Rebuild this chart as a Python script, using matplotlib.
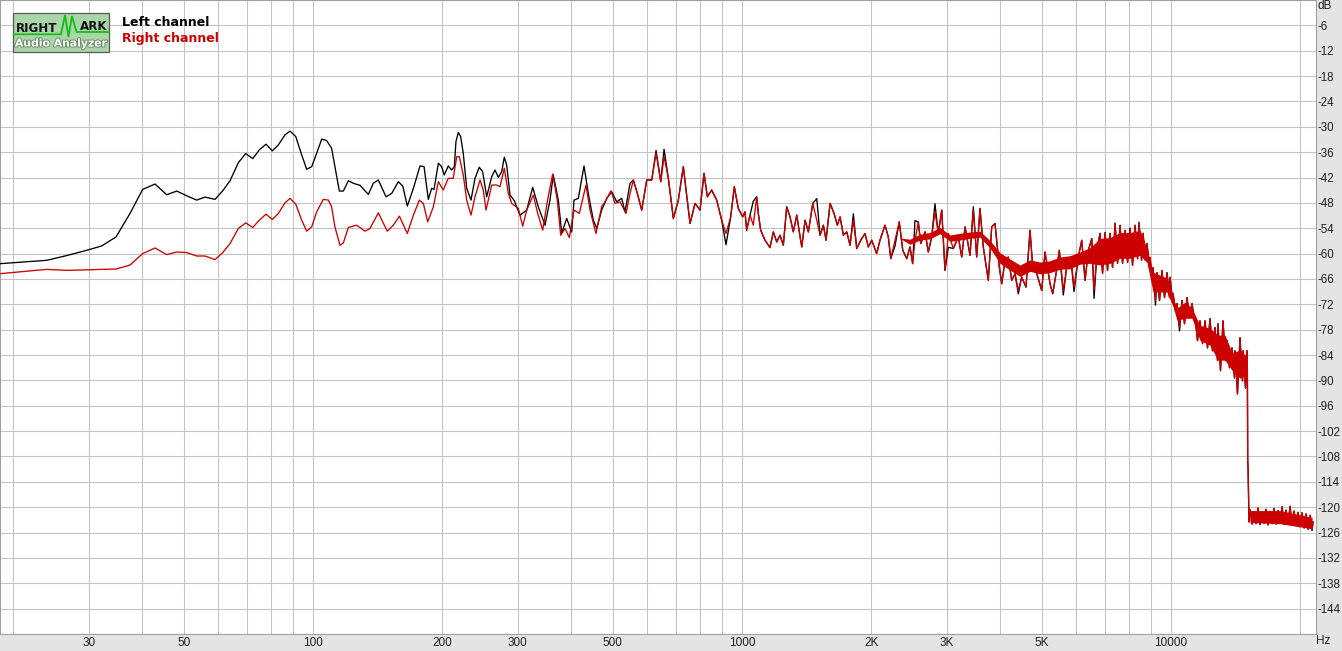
import matplotlib
matplotlib.use('Agg')
import matplotlib.pyplot as plt
from matplotlib.patches import Rectangle
from matplotlib.ticker import FixedLocator, NullFormatter
import matplotlib.patheffects as pe

# ---------------- data (Hz, dB) ----------------
# low band: shared frequencies, left (black) and right (red) channel levels
freq_low = [18.64, 23.95, 26.66, 29.68, 32.17, 34.74, 37.45, 40.09, 42.83, 45.60,
            48.12, 50.77, 53.57, 56.02, 59.11, 61.60, 64.07, 66.99, 69.70, 72.37,
            74.98, 77.72, 80.39, 83.03, 86.06, 88.41, 91.15, 94.12, 96.67, 99.30]
left_low = [-62.38, -61.59, -60.47, -59.22, -58.19, -56.06, -50.50, -44.80, -43.54, -46.08,
            -45.20, -46.32, -47.34, -46.63, -47.17, -45.13, -42.76, -38.48, -36.34, -37.53,
            -35.46, -34.11, -35.70, -34.28, -31.90, -31.02, -32.30, -36.65, -40.05, -39.43]
right_low = [-64.75, -63.73, -63.97, -63.85, -63.73, -63.66, -62.71, -60.00, -58.67, -60.24,
             -59.62, -59.76, -60.57, -60.57, -61.43, -59.76, -57.62, -54.06, -52.73, -53.82,
             -52.09, -50.67, -51.92, -50.50, -47.98, -46.94, -48.29, -52.09, -54.70, -53.68]

# mid band, left channel
left_mid = [(102.0, -36.25), (104.8, -32.92), (107.6, -33.25), (110.5, -35.06), (112.5, -39.43),
            (115.2, -45.20), (117.7, -45.20), (120.9, -42.76), (124.2, -43.37), (128.7, -43.85),
            (134.6, -45.99), (138.2, -43.37), (142.0, -42.59), (148.0, -46.56), (152.6, -45.75),
            (158.1, -42.99), (161.9, -44.01), (165.9, -48.76), (171.4, -44.56), (177.6, -39.26),
            (181.5, -39.43), (185.7, -47.17), (189.1, -44.56), (191.5, -44.80), (196.0, -38.62),
            (199.5, -39.43), (202.3, -41.40), (206.7, -39.26), (210.5, -40.22), (213.5, -39.43),
            (215.4, -33.49), (218.1, -31.35), (220.9, -32.30), (224.0, -36.25), (228.2, -44.56),
            (233.5, -47.34), (238.6, -42.19), (244.1, -39.57), (248.6, -40.62), (254.0, -46.56),
            (261.0, -41.81), (265.6, -40.22), (270.4, -41.95), (275.3, -40.62), (279.2, -37.20),
            (282.8, -39.03), (287.9, -46.15), (294.1, -47.34), (303.8, -50.90), (314.9, -49.71),
            (325.2, -44.32), (335.1, -48.93), (347.4, -53.28), (356.8, -47.34), (363.2, -41.40),
            (373.1, -47.34), (380.0, -55.11), (390.3, -51.69), (400.9, -54.87), (405.9, -47.34),
            (415.4, -46.94), (428.3, -39.26), (438.3, -45.75), (450.2, -52.09), (458.5, -54.06),
            (470.9, -49.71), (483.8, -46.94), (496.9, -45.37), (510.4, -47.74), (524.3, -46.94),
            (533.7, -50.12), (548.3, -43.37)]

# mid band, right channel
right_mid = [(102.0, -50.12), (105.7, -47.17), (108.6, -47.34), (110.5, -48.93), (112.5, -53.68),
             (115.6, -58.03), (117.7, -57.48), (120.9, -53.82), (126.4, -53.28), (132.2, -54.70),
             (135.8, -54.06), (142.0, -50.36), (149.0, -54.70), (153.9, -53.28), (159.0, -51.14),
             (165.9, -55.25), (171.4, -50.90), (177.0, -47.34), (180.8, -48.12), (185.1, -52.49),
             (190.8, -48.93), (196.0, -42.99), (201.2, -44.97), (206.7, -42.19), (212.3, -42.19),
             (216.3, -37.05), (219.3, -37.05), (224.0, -41.40), (228.2, -47.34), (233.5, -50.90),
             (238.6, -46.56), (245.1, -42.59), (249.4, -44.97), (253.1, -49.71), (261.0, -43.78),
             (268.1, -43.78), (272.8, -44.18), (279.2, -39.81), (285.3, -45.75), (290.5, -48.12),
             (301.0, -49.31), (308.2, -53.52), (314.9, -49.71), (326.3, -46.15), (333.3, -50.12),
             (343.1, -54.47), (351.7, -47.74), (362.0, -41.16), (371.1, -47.34), (377.9, -55.65),
             (386.7, -54.06), (395.8, -56.20), (405.9, -49.71), (417.6, -50.50), (432.9, -43.78),
             (442.3, -49.71), (456.7, -55.25), (470.9, -48.93), (481.9, -47.34), (495.1, -45.13),
             (505.8, -48.12), (519.6, -47.74), (536.6, -50.50), (548.3, -45.75)]

# high band (both channels nearly identical), right channel values
right_high = [(558.1, -42.59), (570.2, -45.75), (583.8, -49.71), (599.7, -42.59), (616.0, -42.59),
              (630.5, -36.25), (646.6, -42.99), (658.1, -37.05), (673.5, -42.19), (691.8, -51.69),
              (710.5, -47.34), (729.9, -39.43), (740.6, -44.97), (756.7, -52.87), (777.2, -48.12),
              (798.2, -49.71), (815.6, -41.00), (830.3, -46.56), (849.9, -44.97), (873.0, -47.34),
              (896.7, -52.09), (917.7, -55.25), (941.2, -51.31), (959.5, -44.18), (980.3, -49.31),
              (1003.8, -51.31), (1016, -50.12), (1025.5, -54.47), (1044, -50.90), (1062.5, -53.28),
              (1082, -46.56), (1091.5, -50.50), (1105.5, -54.47), (1131.6, -56.84), (1162.1, -58.58),
              (1183, -54.87), (1205, -57.24), (1226.5, -55.65), (1248.4, -58.03), (1271, -48.93),
              (1294, -51.31), (1317, -54.87), (1341.6, -50.90), (1366, -56.06), (1378.3, -58.43),
              (1402.9, -52.09), (1428, -54.87), (1462, -48.12), (1493.7, -52.09), (1520.4, -55.65),
              (1547.6, -53.28), (1570.2, -56.84), (1604.3, -48.12), (1639, -50.50), (1668.3, -53.28),
              (1692.7, -51.31), (1722.9, -55.65), (1754.7, -54.87), (1786, -58.03), (1818, -52.09),
              (1851, -58.81), (1891, -56.84), (1935.4, -55.25), (1970, -58.43), (2006, -56.84),
              (2060, -60.00), (2097, -56.84), (2154, -53.28), (2193, -56.06), (2222, -61.19),
              (2273, -56.84), (2326, -52.49), (2370, -59.22), (2421, -61.19), (2464, -58.43),
              (2499, -62.38), (2531, -56.84), (2576, -52.49), (2610, -57.62), (2671, -54.87),
              (2718, -59.62), (2768, -56.06), (2817, -50.12), (2868, -55.25), (2921, -49.71),
              (2973, -63.97), (3027, -55.25), (3109, -58.81), (3193, -56.06), (3252, -60.81),
              (3311, -53.68), (3400, -60.40), (3461, -49.71), (3524, -60.81), (3587, -49.31),
              (3651, -58.43), (3751, -66.34), (3820, -53.68), (3888, -52.87), (3979, -63.18),
              (4031, -67.13), (4103, -61.59), (4176, -60.81), (4253, -66.34), (4329, -64.75),
              (4406, -68.72), (4487, -65.56), (4592, -67.93), (4692, -54.47), (4760, -63.18),
              (4864, -64.75), (4996, -68.72), (5085, -59.62), (5224, -67.13), (5300, -69.50),
              (5395, -64.75), (5491, -59.22), (5610, -68.72), (5713, -63.18), (5838, -60.81),
              (5942, -67.93), (6081, -60.81), (6193, -56.84), (6305, -66.34), (6417, -59.22),
              (6535, -56.44), (6616, -68.72), (6735, -58.43)]

# dense noisy region 6.8k-15k: alternating peak / trough readings
right_dense = [(6833, -55.2), (6925, -64.7), (7019, -55.0), (7113, -64.0), (7210, -55.2),
               (7307, -63.3), (7406, -52.8), (7506, -62.3), (7607, -53.3), (7710, -62.3),
               (7814, -54.5), (7920, -62.1), (8027, -54.0), (8135, -62.8), (8245, -53.3),
               (8356, -61.2), (8424, -52.6), (8537, -61.6), (8606, -55.2), (8721, -61.6),
               (8791, -57.6), (8910, -63.3), (8934, -60.9), (9054, -66.4), (9079, -63.3),
               (9201, -71.1), (9275, -64.5), (9402, -71.1), (9528, -64.0), (9657, -70.4),
               (9788, -64.5), (9920, -70.4), (9946, -65.6), (10081, -71.1), (10108, -69.4),
               (10244, -73.5), (10327, -71.8), (10467, -77.5), (10608, -71.1), (10751, -76.6),
               (10897, -70.4), (11044, -75.1), (11193, -71.8), (11344, -75.9), (11375, -75.1),
               (11528, -80.6), (11684, -75.9), (11842, -81.3), (12002, -75.9), (12164, -82.3),
               (12328, -75.4), (12494, -83.0), (12663, -77.5), (12834, -85.3), (12868, -76.6),
               (13042, -87.7), (13219, -75.9), (13397, -85.3), (13505, -80.6), (13687, -87.0),
               (13872, -82.3), (14059, -89.4), (14097, -83.0), (14287, -93.2), (14480, -79.9),
               (14678, -90.1), (14717, -83.0), (14916, -91.8), (15037, -83.0), (15065, -87.5),
               (15094, -109.1), (15120, -110.5), (15143, -114.6), (15175, -121.5), (15200, -123.5)]

# noise floor above the low-pass cut-off
right_floor = [(15283, -120.6), (15448, -124.0), (15615, -121.0), (15784, -123.9), (15954, -120.2),
               (16127, -124.1), (16301, -121.2), (16477, -123.8), (16655, -120.5), (16835, -124.2),
               (17017, -121.0), (17201, -123.9), (17386, -120.3), (17574, -124.0), (17764, -120.8),
               (17956, -123.8), (18150, -119.9), (18346, -124.1), (18544, -120.7), (18744, -124.0),
               (18946, -119.8), (19150, -124.3), (19357, -120.9), (19566, -124.4), (19777, -121.2),
               (19991, -124.6), (20206, -121.3), (20424, -124.9), (20645, -121.6), (20867, -125.2),
               (21093, -121.9), (21320, -125.5), (21434, -123.5)]

# solid core of the dense noise band (upper / lower edge)
core_f = [2335, 2464, 2600, 2743, 2894, 3054, 3222, 3400, 3587, 3785, 3994, 4214, 4447, 4692,
          4951, 5223, 5511, 5815, 6136, 6474, 6833, 7210, 7607, 8027, 8470, 8791, 9079, 9427,
          9788, 10108, 10327, 10780, 11193, 11684, 12328, 12868, 13361, 13872, 14480, 14956]
core_top = [-56.3, -56.6, -55.4, -55.0, -53.8, -55.6, -55.2, -54.9, -54.7, -56.9, -59.8, -61.3,
            -62.7, -61.5, -62.0, -61.7, -60.8, -60.5, -59.6, -58.6, -56.4, -56.2, -55.0, -55.0,
            -54.5, -58.8, -64.4, -65.1, -65.8, -70.5, -72.9, -71.5, -72.9, -77.0, -77.7, -79.3,
            -79.3, -83.4, -82.9, -84.1]
core_bot = [-56.4, -57.8, -56.8, -56.5, -55.3, -57.1, -56.8, -56.4, -56.1, -58.7, -62.3, -63.9,
            -65.4, -64.2, -64.8, -64.5, -63.7, -63.6, -62.5, -62.3, -62.7, -62.3, -61.1, -61.1,
            -60.4, -62.1, -69.1, -69.1, -69.1, -72.5, -75.8, -75.3, -75.3, -80.5, -81.7, -85.2,
            -85.2, -87.6, -89.5, -88.8]
floor_f = [15283, 17956, 21320]
floor_top = [-120.8, -120.8, -122.4]
floor_bot = [-123.6, -123.9, -125.1]

# points where the left channel differs from the right one in the high band
left_override = {630.5: -35.6, 658.1: -35.3, 917.7: -57.9, 1062.5: -47.6, 1493.7: -47.0,
                 1818: -50.6, 2273: -58.2, 2531: -52.2, 2817: -48.2, 3027: -58.5, 3461: -48.9,
                 4406: -69.5, 5610: -69.8, 5942: -69.0, 6616: -70.6, 9201: -72.2, 10467: -78.3}

x_tick_vals = [30, 50, 100, 200, 300, 500, 1000, 2000, 3000, 5000, 10000]
x_tick_text = ['30', '50', '100', '200', '300', '500', '1000', '2K', '3K', '5K', '10000']
x_grid_vals = [20, 30, 40, 50, 60, 70, 80, 90, 100, 200, 300, 400, 500, 600, 700, 800, 900,
               1000, 2000, 3000, 4000, 5000, 6000, 7000, 8000, 9000, 10000, 20000]
y_tick_vals = [-6, -12, -18, -24, -30, -36, -42, -48, -54, -60, -66, -72, -78, -84, -90,
               -96, -102, -108, -114, -120, -126, -132, -138, -144]

# ---------------- assemble series ----------------
high_all = right_high + right_dense + right_floor
f_left = freq_low + [p[0] for p in left_mid] + [p[0] for p in high_all]
v_left = left_low + [p[1] for p in left_mid] + [left_override.get(p[0], p[1]) for p in high_all]
f_right = freq_low + [p[0] for p in right_mid] + [p[0] for p in high_all]
v_right = right_low + [p[1] for p in right_mid] + [p[1] for p in high_all]

RED = '#cc0000'

# ---------------- figure ----------------
W, H = 1342, 651
fig = plt.figure(figsize=(W / 100, H / 100), dpi=100, facecolor='#e4e4e4')
ax = fig.add_axes([0, (H - 634) / H, 1316 / W, 634 / H])
ax.set_facecolor('white')
ax.set_xscale('log')
ax.set_xlim(18.64, 21775)
ax.set_ylim(-150, 0)

ax.plot(f_left, v_left, color='#000000', lw=0.95, zorder=3)
ax.fill_between(core_f, core_top, core_bot, color=RED, lw=0, zorder=4)
ax.fill_between(floor_f, floor_top, floor_bot, color=RED, lw=0, zorder=4)
ax.plot(f_right, v_right, color=RED, lw=0.95, zorder=5)

tick_font = ['Liberation Sans', 'DejaVu Sans']
ax.xaxis.set_major_locator(FixedLocator(x_tick_vals))
ax.xaxis.set_minor_locator(FixedLocator(x_grid_vals))
ax.xaxis.set_minor_formatter(NullFormatter())
ax.set_xticks(x_tick_vals)
ax.set_xticklabels(x_tick_text, fontfamily=tick_font, fontsize=8.5)
ax.yaxis.tick_right()
ax.set_yticks(y_tick_vals)
ax.set_yticklabels([str(v) for v in y_tick_vals], fontfamily=tick_font, fontsize=8.3)
ax.tick_params(axis='both', which='both', length=0, colors='#202020')
ax.tick_params(axis='x', pad=2)
ax.tick_params(axis='y', pad=0.8)
ax.grid(True, which='both', axis='x', color='#c3c3c3', lw=0.75, zorder=0)
ax.grid(True, which='major', axis='y', color='#c3c3c3', lw=0.75, zorder=0)
ax.set_axisbelow(True)
for s in ax.spines.values():
    s.set_color('#a0a0a0')
    s.set_linewidth(0.8)

# ---------------- overlay: units, logo, legend ----------------
ov = fig.add_axes([0, 0, 1, 1])
ov.set_xlim(0, W)
ov.set_ylim(H, 0)
ov.axis('off')
ov.patch.set_alpha(0)

ov.text(1317, 6, 'dB', fontfamily=tick_font, fontsize=8.5, ha='left', va='center', color='#202020')
ov.text(1316, 641, 'Hz', fontfamily=tick_font, fontsize=8.5, ha='left', va='center', color='#202020')

ov.add_patch(Rectangle((13, 13), 96, 39, facecolor='#a9d5a9', edgecolor='#5a5a5a', lw=0.9))
ov.plot([14, 61, 65, 68.5, 72, 76.5, 108], [34.3, 34.3, 15, 37, 16, 32, 32],
        color='#10c010', lw=1.3, solid_joinstyle='miter')
ov.text(16, 28, 'RIGHT', fontsize=8.6, fontweight='bold', color='#101010', ha='left', va='center')
ov.text(107, 26, 'ARK', fontsize=8.6, fontweight='bold', color='#101010', ha='right', va='center')
ov.text(61, 43.5, 'Audio Analyzer', fontsize=7.8, fontweight='bold', color='white',
        ha='center', va='center',
        path_effects=[pe.withStroke(linewidth=1.4, foreground='#6b8f6b')])

ov.text(122, 22.5, 'Left channel', fontsize=9, fontweight='bold', color='#000000',
        ha='left', va='center')
ov.text(122, 38.5, 'Right channel', fontsize=9, fontweight='bold', color=RED,
        ha='left', va='center')

fig.savefig('out.png', dpi=100, facecolor=fig.get_facecolor())
